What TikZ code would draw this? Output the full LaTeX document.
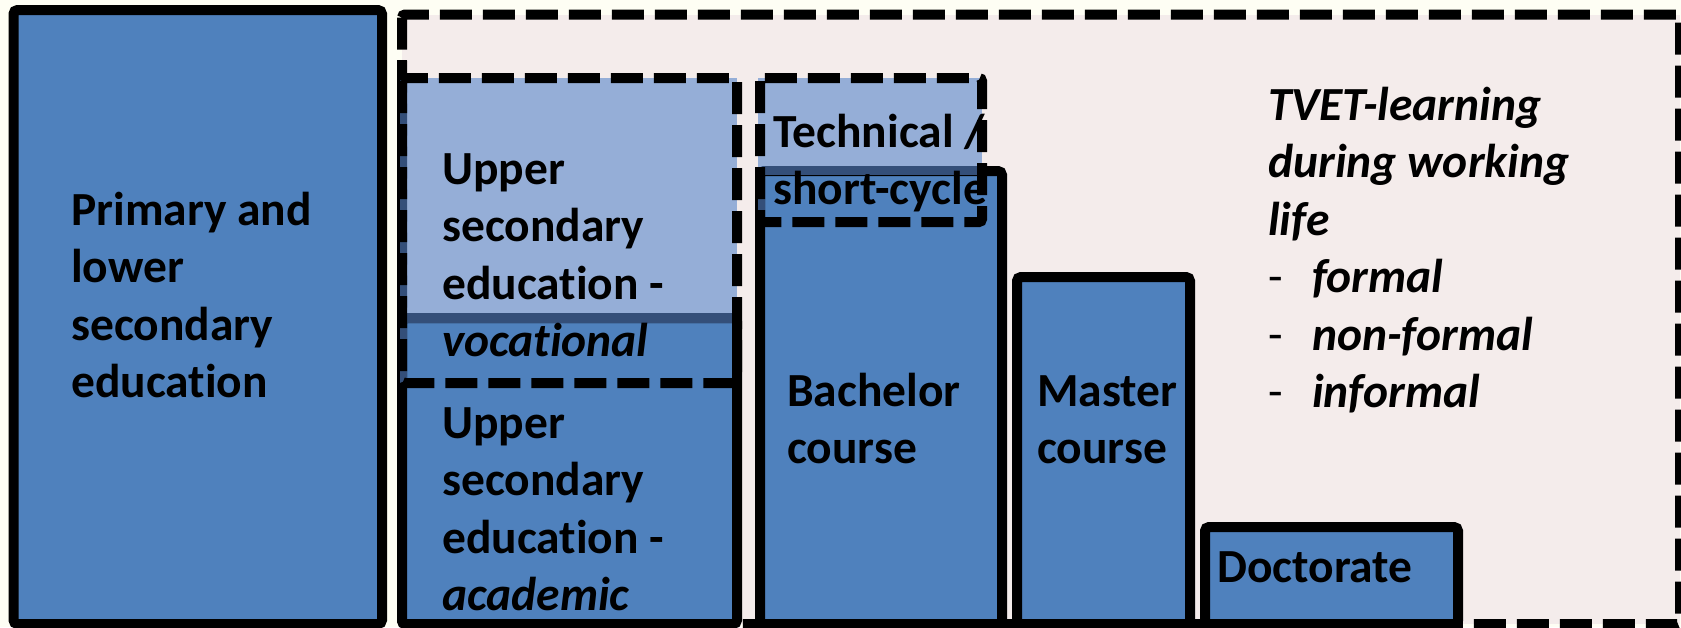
\documentclass[tikz,border=0pt]{standalone}
\usepackage{fontspec}
\setmainfont[Ligatures=NoCommon]{Carlito}
\definecolor{bgc}{HTML}{FEFEF4}
\definecolor{pinkc}{HTML}{F4ECEB}
\definecolor{bluec}{HTML}{4F81BD}
\definecolor{ovc}{HTML}{5785CB}
\tikzset{
  solidbox/.style={draw=black, line width=10pt, fill=bluec, rounded corners=4pt},
  dashbox/.style={draw=black, line width=10pt, dash pattern=on 32pt off 11pt, rounded corners=3pt},
  overlaybox/.style={fill=ovc, fill opacity=0.6, draw=none},
  lbl/.style={anchor=base west, inner sep=0pt, font=\fontsize{47.5}{57.5}\selectfont\bfseries},
  ilbl/.style={lbl, font=\fontsize{47.5}{57.5}\selectfont\bfseries\itshape},
}
\newcommand{\lst}[1]{\makebox[44pt][l]{\upshape\mdseries -}#1}
\begin{document}
\begin{tikzpicture}[x=1pt,y=-1pt]
\useasboundingbox (0,0) rectangle (1681,627);
\fill[bgc] (0,0) rectangle (1681,627);
% TVET area
\fill[pinkc] (402,14.5) rectangle (1680,624);
\draw[dashbox] (402,14.5) rectangle (1680,624);
% primary
\draw[solidbox] (13.5,10) rectangle (382,624);
% upper secondary academic
\draw[line width=10pt] (402,60) -- (402,318);
\draw[solidbox] (402,318) rectangle (737,624);
% bachelor, master, doctorate
\draw[solidbox] (760,171) rectangle (1002,624);
\draw[solidbox] (1017,277) rectangle (1190,624);
\draw[solidbox] (1205,527) rectangle (1458,624);
% vocational and technical overlays (translucent; only where they tint the background or a border)
\fill[overlaybox] (400,78) rectangle (737,323);
\fill[overlaybox] (400,323) rectangle (407,383);
\fill[overlaybox] (758,78) rectangle (982,175);
\fill[overlaybox] (758,175) rectangle (765,222);
\draw[dashbox] (402,78) rectangle (737,383);
\draw[dashbox] (760,78) rectangle (982,222);
% texts
\node[lbl] (prim) at (71,225) {\begin{tabular}[t]{@{}l@{}}Primary and\\lower\\secondary\\education\end{tabular}};
\node[lbl] (voc) at (442,184) {\begin{tabular}[t]{@{}l@{}}Upper\\secondary\\education -\\\textit{vocational}\end{tabular}};
\node[lbl] (acad) at (442,438) {\begin{tabular}[t]{@{}l@{}}Upper\\secondary\\education -\\\textit{academic}\end{tabular}};
\node[lbl] (tech) at (773,147) {\begin{tabular}[t]{@{}l@{}}Technical /\\short-cycle\end{tabular}};
\node[lbl] (bach) at (787,406) {\begin{tabular}[t]{@{}l@{}}Bachelor\\course\end{tabular}};
\node[lbl] (mast) at (1037,406) {\begin{tabular}[t]{@{}l@{}}Master\\course\end{tabular}};
\node[lbl] (doct) at (1217,582) {Doctorate};
\node[ilbl] (tvet) at (1268,120) {\begin{tabular}[t]{@{}l@{}}TVET-learning\\during working\\life\\\lst{formal}\\\lst{non-formal}\\\lst{informal}\end{tabular}};
\end{tikzpicture}
\end{document}
